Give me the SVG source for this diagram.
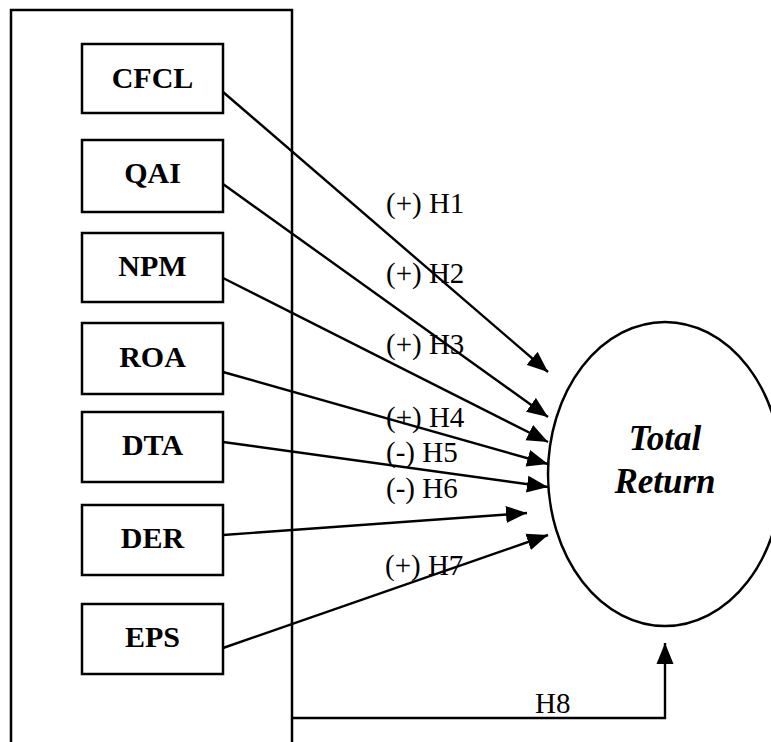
<svg xmlns="http://www.w3.org/2000/svg" width="771" height="742" viewBox="0 0 771 742">
<style>
.box{fill:#fff;stroke:#000;stroke-width:2.5}
.lbl{font-family:"Liberation Serif","Times New Roman",serif;font-weight:bold;font-size:30px;text-anchor:middle;fill:#000}
.h{font-family:"Liberation Serif","Times New Roman",serif;font-size:29px;fill:#000}
.tr{font-family:"Liberation Serif","Times New Roman",serif;font-weight:bold;font-style:italic;font-size:35px;text-anchor:middle;fill:#000}
.c{fill:none;stroke:#000;stroke-width:2.4}
</style>
<defs>
<marker id="ah" markerUnits="userSpaceOnUse" markerWidth="22" markerHeight="18" refX="21" refY="8.5" orient="auto" viewBox="0 0 22 17">
<path d="M0,0 L21,8.5 L0,17 z" fill="#000"/>
</marker>
</defs>
<rect width="771" height="742" fill="#fff"/>
<g id="frame">
<path d="M11,745 V10 H292 V745" fill="none" stroke="#000" stroke-width="2.5"/>
</g>
<g id="CFCL"><rect class="box" x="82" y="44" width="141" height="69"/><text class="lbl" x="152.5" y="88">CFCL</text></g>
<g id="QAI"><rect class="box" x="82" y="140" width="141" height="72"/><text class="lbl" x="152.5" y="183">QAI</text></g>
<g id="NPM"><rect class="box" x="82" y="233" width="141" height="69"/><text class="lbl" x="152.5" y="276">NPM</text></g>
<g id="ROA"><rect class="box" x="82" y="323" width="141" height="71"/><text class="lbl" x="152.5" y="367">ROA</text></g>
<g id="DTA"><rect class="box" x="82" y="412" width="141" height="70"/><text class="lbl" x="152.5" y="455">DTA</text></g>
<g id="DER"><rect class="box" x="82" y="505" width="141" height="70"/><text class="lbl" x="152.5" y="548">DER</text></g>
<g id="EPS"><rect class="box" x="82" y="604" width="141" height="70"/><text class="lbl" x="152.5" y="647">EPS</text></g>
<g id="TotalReturn">
<ellipse cx="665" cy="474" rx="117" ry="152" fill="none" stroke="#000" stroke-width="2.5"/>
<text class="tr" x="665" y="450">Total</text>
<text class="tr" x="665" y="493">Return</text>
</g>
<g id="connectors">
<line class="c" x1="223" y1="92" x2="548" y2="372" marker-end="url(#ah)"/>
<line class="c" x1="223" y1="184" x2="548" y2="417" marker-end="url(#ah)"/>
<line class="c" x1="223" y1="278" x2="548" y2="442" marker-end="url(#ah)"/>
<line class="c" x1="223" y1="372" x2="548" y2="464" marker-end="url(#ah)"/>
<line class="c" x1="223" y1="442" x2="548" y2="487" marker-end="url(#ah)"/>
<line class="c" x1="223" y1="535" x2="527" y2="513" marker-end="url(#ah)"/>
<line class="c" x1="223" y1="648" x2="548" y2="535" marker-end="url(#ah)"/>
<path class="c" d="M292,718 H665 V643" marker-end="url(#ah)"/>
</g>
<g id="labels">
<text class="h" x="386" y="213">(+) H1</text>
<text class="h" x="386" y="283">(+) H2</text>
<text class="h" x="386" y="354">(+) H3</text>
<text class="h" x="386" y="427">(+) H4</text>
<text class="h" x="386" y="462">(-) H5</text>
<text class="h" x="386" y="498">(-) H6</text>
<text class="h" x="385" y="575">(+) H7</text>
<text class="h" x="535" y="713">H8</text>
</g>
</svg>
